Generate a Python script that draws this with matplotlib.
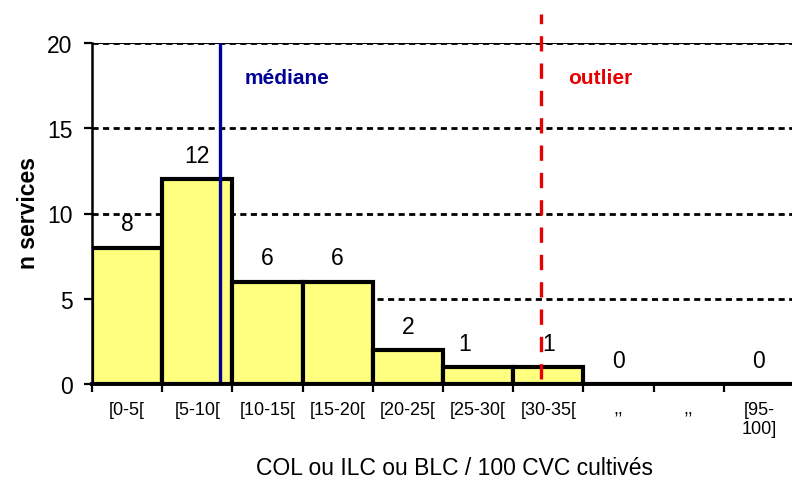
import numpy as np
import matplotlib.pyplot as plt

plt.rcParams['font.family'] = ['Liberation Sans', 'DejaVu Sans']

# histogram data
categories = ["[0-5[", "[5-10[", "[10-15[", "[15-20[", "[20-25[", "[25-30[",
              "[30-35[", ",,", ",,", "[95-\n100]"]
counts = [8, 12, 6, 6, 2, 1, 1, 0, 0, 0]
bar_labels = ["8", "12", "6", "6", "2", "1", "1", "0", "", "0"]
median_x = 1.82
outlier_x = 6.40

fig = plt.figure(figsize=(7.92, 4.85), dpi=100)
ax = fig.add_axes([92/792, 1 - 385/485, 702/792, 341/485])

x = np.arange(len(counts))
ax.bar(x, counts, width=1, align='edge', color='#FFFF80', edgecolor='black',
       linewidth=3, zorder=3)

# value labels (the "1" of [25-30[ sits a bit to the left in the original)
shift = {5: -0.19}
for i, (c, lab) in enumerate(zip(counts, bar_labels)):
    if lab:
        ax.text(i + 0.5 + shift.get(i, 0), c + 1.4, lab, ha='center', va='center',
                fontsize=16.5, zorder=5)

# dashed grid
for yv in [5, 10, 15, 20]:
    ax.axhline(yv, color='black', lw=2, ls=(0, (2.2, 1.6)), zorder=1)
ax.axhline(20, color='black', lw=0.8, zorder=1)

# median / outlier markers
ax.axvline(median_x, ymin=0.005, ymax=1.0, color='#000096', lw=2.4, zorder=4)
ax.axvline(outlier_x, ymin=0.015, ymax=1.085, color='#E60000', lw=2.4,
           ls=(0, (4.6, 3.6)), zorder=4, clip_on=False)
ax.text(2.18, 18.0, "médiane", color='#000096', fontsize=15, fontweight='bold',
        va='center', ha='left')
ax.text(6.78, 18.0, "outlier", color='#E60000', fontsize=15, fontweight='bold',
        va='center', ha='left')

ax.set_xlim(0, 10)
ax.set_ylim(0, 20)

ax.spines['top'].set_visible(False)
ax.spines['right'].set_visible(False)
ax.spines['left'].set_linewidth(1.8)
ax.spines['bottom'].set_linewidth(2.8)
ax.spines['bottom'].set_zorder(6)

ax.set_xticks(np.arange(11))
ax.set_xticklabels([])
ax.set_xticks(x + 0.5, minor=True)
ax.set_xticklabels(categories, minor=True, fontsize=13, va='top')
ax.tick_params(axis='x', which='major', length=6, width=1.6, direction='out')
ax.tick_params(axis='x', which='minor', length=0, pad=12)

ax.set_yticks([0, 5, 10, 15, 20])
ax.tick_params(axis='y', length=6, width=1.6, direction='out', pad=8, labelsize=16.5)

ax.set_ylabel("n services", fontsize=16.5, fontweight='bold')
ax.yaxis.set_label_coords(-0.074, 0.504)
ax.set_xlabel("COL ou ILC ou BLC / 100 CVC cultivés", fontsize=16.5, va='center')
ax.xaxis.set_label_coords(0.517, -0.246)

fig.savefig("out.png", dpi=100)
